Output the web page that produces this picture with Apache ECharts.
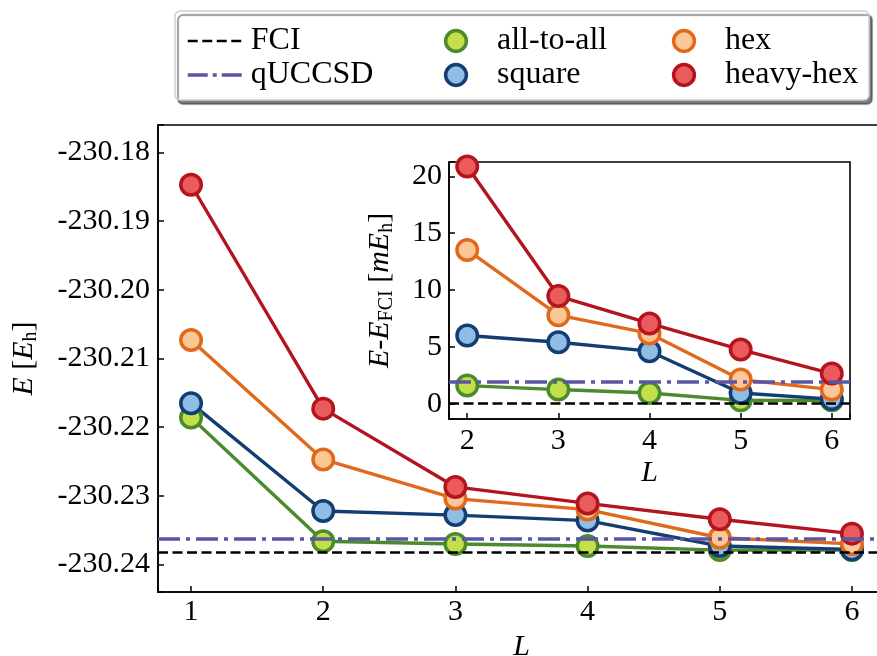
<!DOCTYPE html>
<html><head><meta charset="utf-8">
<script src="https://cdn.jsdelivr.net/npm/echarts@6/dist/echarts.min.js"></script>
<style>html,body{margin:0;padding:0;background:#fff}#c{width:877px;height:656px}</style>
</head><body><div id="c"></div>
<script>
// ---------- data ----------
const L_main = [1, 2, 3, 4, 5, 6];
const L_inset = [2, 3, 4, 5, 6];

const E_allToAll = [-230.2186, -230.2366, -230.2370, -230.2373, -230.2379, -230.2379];
const E_square   = [-230.2165, -230.2322, -230.2328, -230.2336, -230.2373, -230.2378];
const E_hex      = [-230.2073, -230.2247, -230.2304, -230.2320, -230.2361, -230.2370];
const E_heavyHex = [-230.1847, -230.2173, -230.2287, -230.2311, -230.2334, -230.2355];
const E_FCI = -230.2382;
const E_qUCCSD = -230.2363;

const dE_allToAll = [1.59, 1.24, 0.94, 0.29, 0.30];
const dE_square   = [6.00, 5.41, 4.62, 0.94, 0.40];
const dE_hex      = [13.53, 7.79, 6.18, 2.12, 1.24];
const dE_heavyHex = [20.88, 9.47, 7.06, 4.76, 2.65];
const dE_FCI = 0;
const dE_qUCCSD = 1.91;

const mainYTicks = [-230.24, -230.23, -230.22, -230.21, -230.20, -230.19, -230.18];
const mainXTicks = [1, 2, 3, 4, 5, 6];
const insetYTicks = [0, 5, 10, 15, 20];
const insetXTicks = [2, 3, 4, 5, 6];

// ---------- style ----------
const FONT = 'Liberation Serif';
const styles = {
  'all-to-all': { line: '#4b8b2b', fill: '#c3df4a' },
  'square':     { line: '#123e72', fill: '#8fbde6' },
  'hex':        { line: '#e0691c', fill: '#fcc797' },
  'heavy-hex':  { line: '#b3141e', fill: '#ea5b5c' }
};
const purple = '#5a56a6';
const fciDash = [10, 4.5];
const qDash = [22, 6, 4, 6];

function fmtFrom(ticks, digits) {
  return function (v) {
    for (const t of ticks) if (Math.abs(v - t) < 1e-7) return t.toFixed(digits);
    return '';
  };
}
function axisBase(extra) {
  return Object.assign({
    type: 'value',
    splitLine: { show: false },
    axisLine: { show: true, onZero: false, lineStyle: { color: '#000', width: 1.6 } },
    axisTick: { show: true, inside: true, length: 6, lineStyle: { color: '#000', width: 1.5 } },
    axisLabel: { color: '#000', fontFamily: FONT, fontSize: 30, hideOverlap: false },
    nameTextStyle: { color: '#000', fontFamily: FONT, fontSize: 30 }
  }, extra);
}
const rich = {
  it: { fontFamily: FONT, fontSize: 30, fontStyle: 'italic', color: '#000', lineHeight: 34 },
  rm: { fontFamily: FONT, fontSize: 30, color: '#000', lineHeight: 34 },
  sub: { fontFamily: FONT, fontSize: 20, color: '#000', lineHeight: 20, verticalAlign: 'bottom' }
};

function dataSeries(name, xs, ys, xi, z) {
  const s = styles[name];
  return {
    name, type: 'line', xAxisIndex: xi, yAxisIndex: xi, z,
    data: xs.map((x, i) => [x, ys[i]]),
    symbol: 'circle', symbolSize: 20.5, showSymbol: true,
    lineStyle: { color: s.line, width: 3.4 },
    itemStyle: { color: s.fill, borderColor: s.line, borderWidth: 3.5 },
    emphasis: { disabled: true }, animation: false
  };
}
function refSeries(name, value, xi, z, color, width, dash) {
  return {
    name, type: 'line', xAxisIndex: xi, yAxisIndex: xi, z,
    data: [], symbol: 'none',
    lineStyle: { color, width, type: dash },
    itemStyle: { color },
    markLine: {
      silent: true, symbol: 'none', label: { show: false }, precision: 8, z,
      lineStyle: { color, width, type: dash },
      emphasis: { disabled: true },
      data: [{ yAxis: value }], animation: false
    },
    animation: false
  };
}
const legendText = { fontFamily: FONT, fontSize: 32, color: '#000', lineHeight: 30 };

const chart = echarts.init(document.getElementById('c'), null, { renderer: 'canvas' });
const option = {
  backgroundColor: '#fff',
  animation: false,
  graphic: [{
    type: 'rect', z: 1,
    shape: { x: 175, y: 11, width: 694, height: 89, r: 5 },
    style: { fill: '#fff', stroke: '#cfcfcf', lineWidth: 1.5,
             shadowColor: 'rgba(0,0,0,0.5)', shadowOffsetX: 3, shadowOffsetY: 4, shadowBlur: 1 }
  }],
  legend: [
    { data: [
        { name: 'FCI', lineStyle: { width: 2.7, type: fciDash, color: '#000' } },
        { name: 'qUCCSD', lineStyle: { width: 3.5, type: [20, 5, 4, 5], color: purple } }
      ],
      orient: 'vertical', left: 181, top: 20, z: 5,
      itemWidth: 58, itemHeight: 26, itemGap: 2, textStyle: legendText,
      itemStyle: { opacity: 0 }, selectedMode: false },
    { data: ['all-to-all', 'square'], orient: 'vertical', left: 415, top: 20, z: 5,
      itemWidth: 72, itemHeight: 26, itemGap: 2, textStyle: legendText,
      itemStyle: { borderWidth: 3.5 },
      lineStyle: { opacity: 0, width: 0 }, selectedMode: false },
    { data: ['hex', 'heavy-hex'], orient: 'vertical', left: 643, top: 20, z: 5,
      itemWidth: 72, itemHeight: 26, itemGap: 2, textStyle: legendText,
      itemStyle: { borderWidth: 3.5 },
      lineStyle: { opacity: 0, width: 0 }, selectedMode: false }
  ],
  grid: [
    { left: 158, top: 125, right: -8, bottom: 64, show: true, borderColor: '#000', borderWidth: 1.6,
      backgroundColor: 'transparent', containLabel: false, outerBoundsMode: 'none' },
    { left: 449, top: 162, width: 401, height: 257, show: true, borderColor: '#000', borderWidth: 1.6,
      backgroundColor: '#fff', containLabel: false, outerBoundsMode: 'none', z: 10 }
  ],
  xAxis: [
    axisBase({ gridIndex: 0, min: 0.75, max: 6.25, splitNumber: 5,
      axisLabel: { color: '#000', fontFamily: FONT, fontSize: 30, margin: 5, formatter: fmtFrom(mainXTicks, 0) },
      name: '{it|L}', nameLocation: 'middle', nameGap: 34,
      nameTextStyle: { rich } }),
    axisBase({ gridIndex: 1, min: 1.8, max: 6.2, splitNumber: 5, z: 11,
      axisLabel: { color: '#000', fontFamily: FONT, fontSize: 30, margin: 7, formatter: fmtFrom(insetXTicks, 0) },
      name: '{it|L}', nameLocation: 'middle', nameGap: 37,
      nameTextStyle: { rich } })
  ],
  yAxis: [
    axisBase({ gridIndex: 0, min: -230.2440, max: -230.1760, splitNumber: 7,
      axisLabel: { color: '#000', fontFamily: FONT, fontSize: 30, margin: 8, formatter: fmtFrom(mainYTicks, 2) },
      name: '{it|E}{rm| [}{it|E}{sub|h}{rm|]}', nameLocation: 'middle', nameGap: 117,
      nameTextStyle: { rich } }),
    axisBase({ gridIndex: 1, min: -1.35, max: 21.27, splitNumber: 5, z: 11,
      axisLabel: { color: '#000', fontFamily: FONT, fontSize: 30, margin: 7, formatter: fmtFrom(insetYTicks, 0) },
      name: '{it|E}{rm|-}{it|E}{sub|FCI}{rm| [}{it|mE}{sub|h}{rm|]}', nameLocation: 'middle', nameGap: 52,
      nameTextStyle: { rich } })
  ],
  series: [
    dataSeries('all-to-all', L_main, E_allToAll, 0, 2),
    dataSeries('square', L_main, E_square, 0, 2),
    dataSeries('hex', L_main, E_hex, 0, 2),
    dataSeries('heavy-hex', L_main, E_heavyHex, 0, 2),
    refSeries('FCI', E_FCI, 0, 5, '#000', 2.7, fciDash),
    refSeries('qUCCSD', E_qUCCSD, 0, 5, purple, 3.5, qDash),
    dataSeries('all-to-all', L_inset, dE_allToAll, 1, 12),
    dataSeries('square', L_inset, dE_square, 1, 12),
    dataSeries('hex', L_inset, dE_hex, 1, 12),
    dataSeries('heavy-hex', L_inset, dE_heavyHex, 1, 12),
    refSeries('FCI', dE_FCI, 1, 14, '#000', 2.7, fciDash),
    refSeries('qUCCSD', dE_qUCCSD, 1, 14, purple, 3.5, qDash)
  ]
};
chart.setOption(option);
</script>
</body></html>
